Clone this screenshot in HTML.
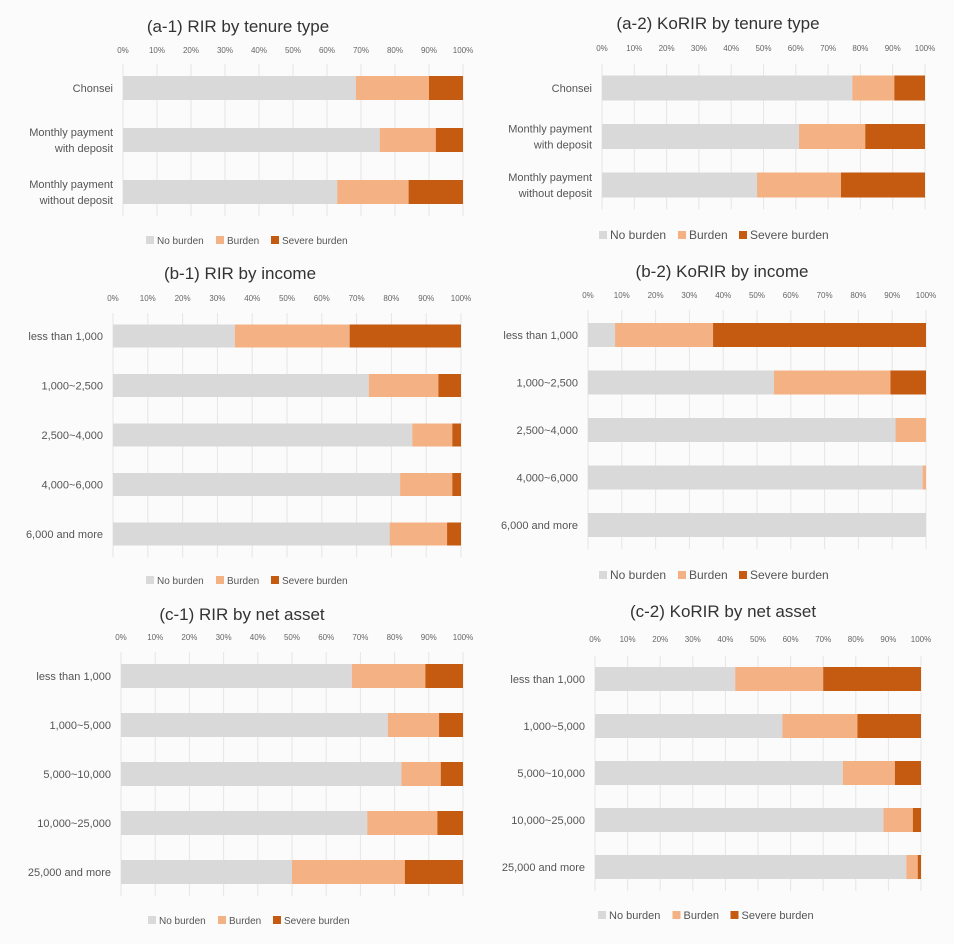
<!DOCTYPE html>
<html><head><meta charset="utf-8">
<style>
html,body{margin:0;padding:0;background:#fbfbfb;}
svg{display:block;font-family:"Liberation Sans",sans-serif;}
</style></head>
<body>
<svg id="chart" width="954" height="944" viewBox="0 0 954 944" xmlns="http://www.w3.org/2000/svg">
<rect x="0" y="0" width="954" height="944" fill="#fbfbfb"/>
</svg>
<script>
// Category arrays
const tenureCats = ["Chonsei", "Monthly payment|with deposit", "Monthly payment|without deposit"];
const incomeCats = ["less than 1,000", "1,000~2,500", "2,500~4,000", "4,000~6,000", "6,000 and more"];
const assetCats = ["less than 1,000", "1,000~5,000", "5,000~10,000", "10,000~25,000", "25,000 and more"];
const tickLabels = ["0%","10%","20%","30%","40%","50%","60%","70%","80%","90%","100%"];
const seriesNames = ["No burden", "Burden", "Severe burden"];
// Series values (percent) : no burden, burden; severe = 100 - no - burden
const a1NoBurden = [68.5, 75.5, 63];
const a1Burden = [21.5, 16.5, 21];
const a2NoBurden = [77.5, 61, 48];
const a2Burden = [13, 20.5, 26];
const b1NoBurden = [35, 73.5, 86, 82.5, 79.5];
const b1Burden = [33, 20, 11.5, 15, 16.5];
const b2NoBurden = [8, 55, 91, 99, 100];
const b2Burden = [29, 34.5, 9, 1, 0];
const c1NoBurden = [67.5, 78, 82, 72, 50];
const c1Burden = [21.5, 15, 11.5, 20.5, 33];
const c2NoBurden = [43, 57.5, 76, 88.5, 95.5];
const c2Burden = [27, 23, 16, 9, 3.5];

const colors = ["#d9d9d9", "#f4b183", "#c55a11"];
const NS = "http://www.w3.org/2000/svg";
const svg = document.getElementById("chart");

function mk(tag, attrs, parent) {
  const e = document.createElementNS(NS, tag);
  for (const k in attrs) e.setAttribute(k, attrs[k]);
  parent.appendChild(e);
  return e;
}

function panel(id, title, cats, noB, bur, g) {
  const grp = mk("g", {}, svg);
  
  
  const xs = v => g.x0 + (g.x1 - g.x0) * v / 100;
  const t = mk("text", {x: g.tx, y: g.ty, "text-anchor": "middle", "font-size": 17, fill: "#333"}, grp);
  t.textContent = title;
  
  
  const gridBottom = g.yc0 + g.sp * (cats.length - 1) + g.bh / 2 + 12;
  tickLabels.forEach((lab, i) => {
    const x = xs(i * 10);
    const ln = mk("line", {x1: x, x2: x, y1: g.gt, y2: gridBottom, stroke: "#e6e6e6", "stroke-width": 1}, grp);
    
    
    const tl = mk("text", {x: x, y: g.tky, "text-anchor": "middle", "font-size": 8, fill: "#666"}, grp);
    tl.textContent = lab;
    
    
  });
  cats.forEach((c, i) => {
    const yc = g.yc0 + g.sp * i;
    const vals = [noB[i], bur[i], Math.max(0, 100 - noB[i] - bur[i])];
    let acc = 0;
    vals.forEach((v, s) => {
      if (v <= 0) return;
      const r = mk("rect", {x: xs(acc), y: yc - g.bh / 2, width: xs(acc + v) - xs(acc), height: g.bh, fill: colors[s]}, grp);
      
      
      acc += v;
    });
    const lines = c.split("|");
    lines.forEach((ln, j) => {
      const tt = mk("text", {x: g.x0 - 10, y: yc + 4 + (j - (lines.length - 1) / 2) * 16, "text-anchor": "end", "font-size": 11, fill: "#555"}, grp);
      tt.textContent = ln;
      
      
    });
  });
  let lx = g.lx;
  seriesNames.forEach((n, s) => {
    const sq = mk("rect", {x: lx, y: g.ly - 8, width: 8, height: 8, fill: colors[s]}, grp);
    
    
    const lt = mk("text", {x: lx + 11, y: g.ly, "font-size": g.lfs, fill: "#555"}, grp);
    lt.textContent = n;
    
    
    lx += 11 + n.length * g.lfs * 0.5 + 14;
  });
}

panel("a1", "(a-1) RIR by tenure type", tenureCats, a1NoBurden, a1Burden,
  {x0:123, x1:463, tx:238, ty:32, tky:53, gt:64, yc0:88, sp:52, bh:24, lx:146, ly:244, lfs:10});
panel("a2", "(a-2) KoRIR by tenure type", tenureCats, a2NoBurden, a2Burden,
  {x0:602, x1:925, tx:718, ty:29, tky:51, gt:64, yc0:88, sp:48.5, bh:25, lx:599, ly:239, lfs:12});
panel("b1", "(b-1) RIR by income", incomeCats, b1NoBurden, b1Burden,
  {x0:113, x1:461, tx:240, ty:279, tky:301, gt:313, yc0:336, sp:49.5, bh:23, lx:146, ly:584, lfs:10});
panel("b2", "(b-2) KoRIR by income", incomeCats, b2NoBurden, b2Burden,
  {x0:588, x1:926, tx:722, ty:277, tky:298, gt:310, yc0:335, sp:47.5, bh:24, lx:599, ly:579, lfs:12});
panel("c1", "(c-1) RIR by net asset", assetCats, c1NoBurden, c1Burden,
  {x0:121, x1:463, tx:242, ty:620, tky:640, gt:652, yc0:676, sp:49, bh:24, lx:148, ly:924, lfs:10});
panel("c2", "(c-2) KoRIR by net asset", assetCats, c2NoBurden, c2Burden,
  {x0:595, x1:921, tx:723, ty:617, tky:642, gt:656, yc0:679, sp:47, bh:24, lx:598, ly:919, lfs:11});
</script>
</body></html>
